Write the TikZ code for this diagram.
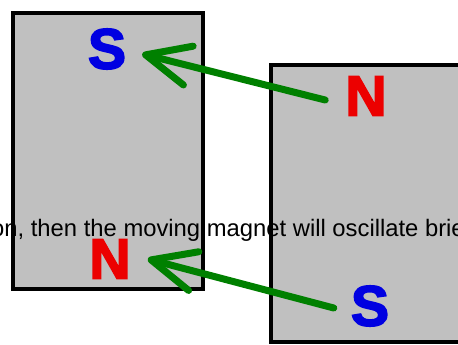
\documentclass[tikz,border=0pt]{standalone}
\usepackage{fontspec}
\setmainfont{Liberation Sans}
\newfontfamily\polefont[BoldFeatures={FakeBold=3}]{Liberation Sans}
\usetikzlibrary{arrows.meta}
\definecolor{magfill}{RGB}{192,192,192}
\definecolor{arrowgreen}{RGB}{0,128,0}
\definecolor{northred}{RGB}{236,0,0}
\definecolor{southblue}{RGB}{0,0,225}
\begin{document}
\begin{tikzpicture}[x=1pt,y=-1pt,
  magnet/.style={draw=black, fill=magfill, line width=4pt},
  pole/.style={font=\polefont\fontsize{57}{57}\selectfont\bfseries, inner sep=0pt},
  northpole/.style={pole, text=northred},
  southpole/.style={pole, text=southblue},
  fieldarrow/.style={draw=arrowgreen, line width=7pt, line cap=round, line join=round,
    -{Straight Barb[length=44pt, width=40pt, round]}},
  caption/.style={font=\fontsize{23.8}{23.8}\selectfont, inner sep=0pt, anchor=base west}]
\useasboundingbox (0,0) rectangle (458,345);
\clip (0,0) rectangle (458,345);
\fill[white] (0,0) rectangle (458,345);

% the two bar magnets
\draw[magnet] (13,13) rectangle (203,289);
\draw[magnet] (271,65) rectangle (480,342);

% pole labels
\node[southpole] (sTop) at (107,49) {S};
\node[northpole] (nBottom) at (110,259) {N};
\node[northpole] (nTop) at (366,96) {N};
\node[southpole] (sBottom) at (370,306) {S};

% attraction arrows
\coordinate (tailA) at ([shift={(-20,4)}]nTop.west);
\coordinate (tipA) at ([shift={(16,5)}]sTop.east);
\coordinate (tailB) at ([shift={(-17,2)}]sBottom.west);
\coordinate (tipB) at ([shift={(17,0)}]nBottom.east);
\draw[fieldarrow] (tailA) -- (tipA);
\draw[fieldarrow] (tailB) -- (tipB);

% caption line running across the picture
\node[caption] (cap) at (-9,236) {on, then the moving magnet will oscillate briefly};
\end{tikzpicture}
\end{document}
